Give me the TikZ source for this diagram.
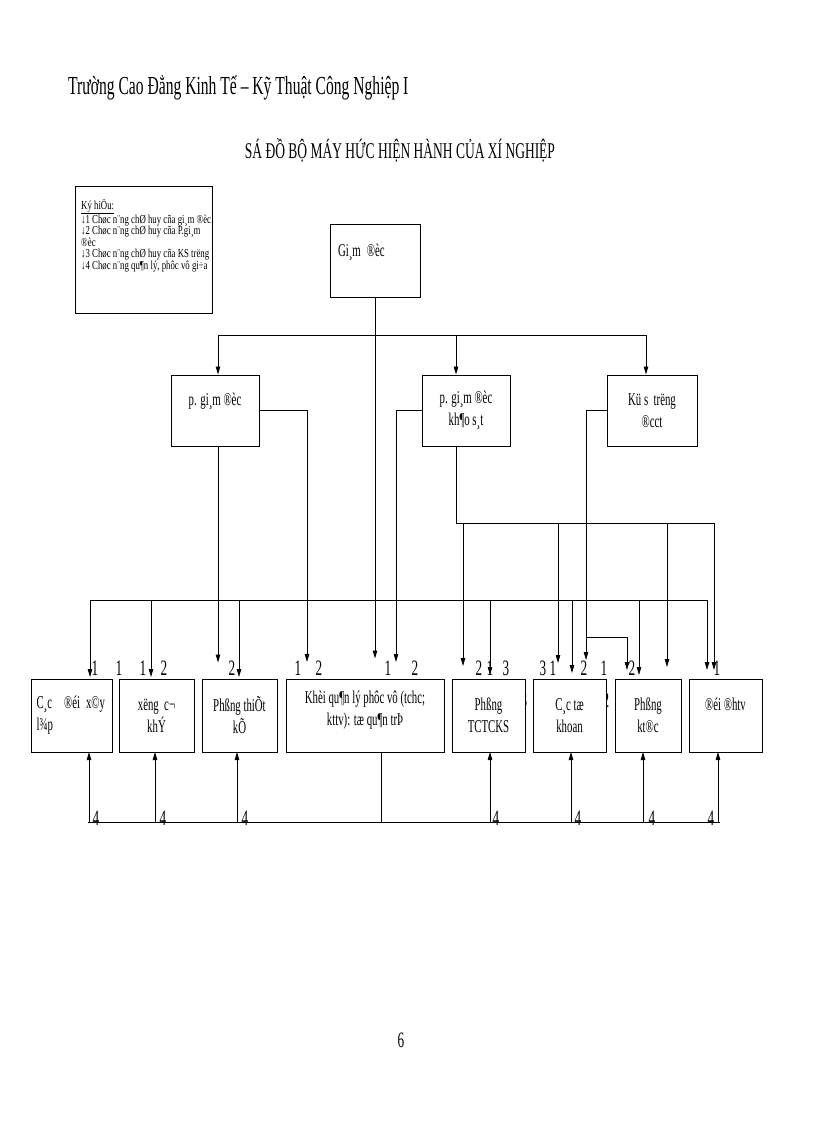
\documentclass[tikz,border=0pt]{standalone}
\usepackage{fontspec}
\setmainfont{Liberation Serif}
\newfontfamily\narrowfont[FakeStretch=0.6]{Liberation Serif}
\newfontfamily\legendfont[FakeStretch=0.72]{Liberation Serif}
\usetikzlibrary{arrows.meta}

\tikzset{
  box/.style={draw, line width=1pt, fill=white, align=center, inner sep=2pt,
    font=\narrowfont\fontsize{18}{22}\selectfont},
  num/.style={font=\narrowfont\fontsize{22}{22}\selectfont, inner sep=0pt},
  conn/.style={line width=0.8pt},
  arr/.style={conn, -{Triangle[length=8pt,width=4.5pt]}},
}

\begin{document}
\begin{tikzpicture}[x=1pt,y=-1pt]
  \useasboundingbox (0,0) rectangle (816,1123);
  % headings
  \node[anchor=west, inner sep=0pt, font=\narrowfont\fontsize{26}{26}\selectfont] (school) at (68,88)
    {Trường Cao Đẳng Kinh Tế – Kỹ Thuật Công Nghiệp I};
  \node[inner sep=0pt, font=\narrowfont\fontsize{22.5}{22.5}\selectfont] (title) at (400,150)
    {SÁ ĐỒ BỘ MÁY HỨC HIỆN HÀNH CỦA XÍ NGHIỆP};
  % legend
  \node[draw, line width=1pt, minimum width=137, minimum height=127] (legend) at (144,250) {};
  \node[anchor=north west, align=left, inner sep=0pt,
    font=\legendfont\fontsize{12.2}{11.5}\selectfont] (legtext) at (81,199)
    {\underline{Ký hiÖu:}\\
     ↓1 Chøc n¨ng chØ huy cña gi¸m ®èc.\\
     ↓2 Chøc n¨ng chØ huy cña P.gi¸m\\
     ®èc\\
     ↓3 Chøc n¨ng chØ huy cña KS trëng\\
     ↓4 Chøc n¨ng qu¶n lý, phôc vô gi÷a};
  % half hidden numbers (behind the boxes)
  \node[num] (h3) at (524,700) {3};
  \node[num] (h2) at (606,700) {2};
  % upper boxes
  \node[box, align=left, text width=74, inner xsep=8, minimum height=72] (gd) at (375,261) {Gi¸m ®èc\\~};
  \node[box, minimum width=88, minimum height=71] (pgd) at (215,410.5) {p. gi¸m ®èc\\~};
  \node[box, minimum width=88, minimum height=71] (pgdks) at (466,410.5) {p. gi¸m ®èc\\kh¶o s¸t};
  \node[box, minimum width=90, minimum height=71] (ks) at (652,410.5) {Kü s\ \ trëng\\®cct};
  % lower boxes
  \node[box, align=left, text width=70, inner xsep=5.5, minimum height=73] (b1) at (71.5,715.5) {C¸c\ \ ®éi x©y\\l¾p};
  \node[box, minimum width=75, minimum height=73] (b2) at (156.5,715.5) {xëng\ \ c¬\\khÝ};
  \node[box, minimum width=75, minimum height=73] (b3) at (239.5,715.5) {Phßng thiÕt\\kÕ};
  \node[box, minimum width=158, minimum height=73] (b4) at (365,715.5) {Khèi qu¶n lý phôc vô (tchc;\\kttv): tæ qu¶n trÞ\\[-8pt]~};
  \node[box, minimum width=73, minimum height=73] (b5) at (488.5,715.5) {Phßng\\TCTCKS};
  \node[box, minimum width=73, minimum height=73] (b6) at (569.5,715.5) {C¸c tæ\\khoan};
  \node[box, minimum width=66, minimum height=73] (b7) at (648,715.5) {Phßng\\kt®c};
  \node[box, minimum width=73, minimum height=73] (b8) at (725.5,715.5) {®éi ®htv\\~};
  % director lines
  \coordinate (t1) at (218,335);
  \coordinate (t2) at (456,335);
  \coordinate (t3) at (646,335);
  \draw[conn] (t1) -- (t3);
  \draw[arr] (t1) -- (t1 |- pgd.north);
  \draw[arr] (t2) -- (t2 |- pgdks.north);
  \draw[arr] (t3) -- (t3 |- ks.north);
  \draw[arr] (gd.south) -- ++(0,361);
  \draw[conn] (90,600) -- (707,600);
  \foreach \x/\y in {90/677, 151/677, 239/677, 490/675, 572/673, 639/675, 707/670}
    \draw[arr] (\x,600) -- (\x,\y);
  % deputy lines
  \draw[arr] ([xshift=3pt]pgd.south) -- ++(0,216);
  \draw[arr] (pgd.east) -| (307,662);
  \draw[arr] (pgdks.west) -| (396,662);
  \draw[conn] ([xshift=-10pt]pgdks.south) |- (714,523);
  \foreach \x/\y in {463/666, 558/663, 667/667, 714/670}
    \draw[arr] (\x,523) -- (\x,\y);
  % chief engineer lines
  \draw[arr] (ks.west) -| (586,660);
  \draw[arr] (586,637) -| (627,670);
  % numbers
  \foreach \x/\t in {95/1, 119/1, 143/1, 164/2, 232/2, 298/1, 319/2, 388/1, 415/2,
                     479/2, 490/1, 506/3, 543/3, 553/1, 584/2, 604/1, 632/2, 717/1}
    \node[num] (n\x) at (\x,668) {\t};
  % service lines
  \draw[conn] (88,822) -- (720,822);
  \draw[conn] ([xshift=16pt]b4.south) -- ++(0,70);
  \foreach \x in {89,155,237,490,571,643,718}
    \draw[arr] (\x,822) -- (\x,752);
  \foreach \x in {96,163,245,496,578,652,711}
    \node[num] (f\x) at (\x,818) {4};
  % page number
  \node[num] (page) at (401,1040) {6};
\end{tikzpicture}
\end{document}
